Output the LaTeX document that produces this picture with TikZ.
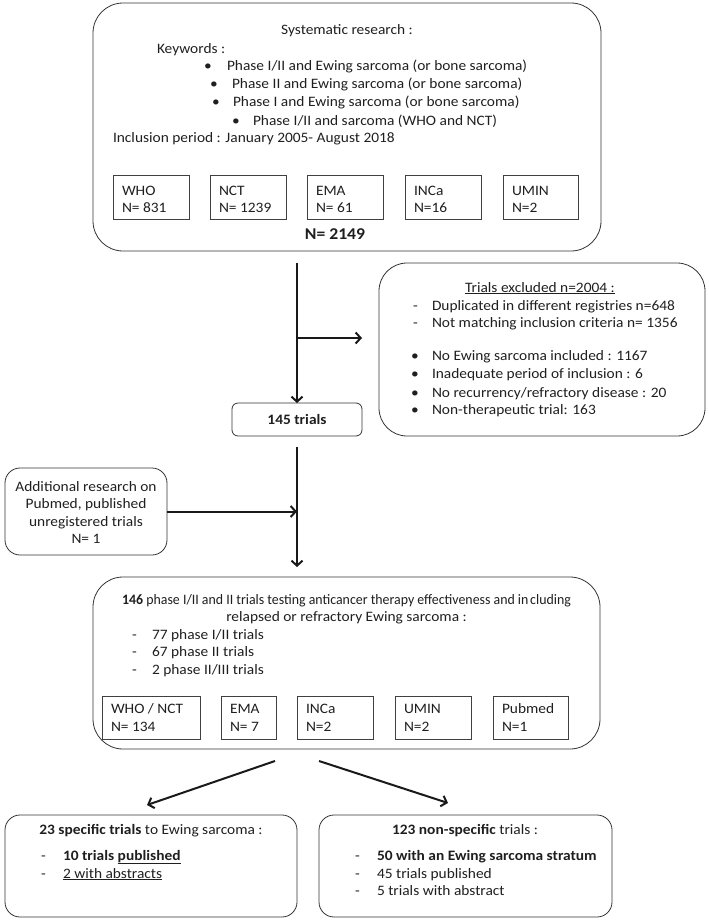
\documentclass[tikz,border=0pt]{standalone}
\usepackage{fontspec}
\setmainfont{Carlito}[FakeStretch=1.07]
\usetikzlibrary{arrows.meta}
\tikzset{
  rbox/.style={draw=black!80, line width=0.8pt, rounded corners=#1, inner sep=0pt, outer sep=0pt},
  rbox/.default=15pt,
  sbox/.style={draw=black!75, line width=0.8pt, inner sep=0pt, outer sep=0pt},
  txt/.style={inner sep=0pt, outer sep=0pt, font=\fontsize{14.4}{17}\selectfont, text=black!88},
  lt/.style={txt, anchor=base west},
  ct/.style={txt, anchor=base},
  arr/.style={line width=2pt, draw=black!90, -{Straight Barb[length=5pt,width=11pt]}},
}
\newcommand{\mkbox}[6]{\node[#6, minimum width={(#4)-(#2)}, minimum height={(#5)-(#3)}] (#1) at ({((#2)+(#4))/2},{((#3)+(#5))/2}) {};}
\begin{document}
\begin{tikzpicture}[x=1pt,y=-1pt]
\useasboundingbox (0,0) rectangle (709,924);
% ---------- top box
\mkbox{top}{93}{3}{601}{251}{rbox=30pt}
\node[ct] (t1) at (347,34) {Systematic research :};
\node[lt] (t2) at (157,53) {Keywords :};
\node[lt] (b1) at (204,70) {\textbullet};
\node[lt] (k1) at (227,70) {Phase I/II and Ewing sarcoma (or bone sarcoma)};
\node[lt] (b2) at (210,88) {\textbullet};
\node[lt] (k2) at (232,88) {Phase II and Ewing sarcoma (or bone sarcoma)};
\node[lt] (b3) at (212,106) {\textbullet};
\node[lt] (k3) at (233,106) {Phase I and Ewing sarcoma (or bone sarcoma)};
\node[lt] (b4) at (232,125) {\textbullet};
\node[lt] (k4) at (253,125) {Phase I/II and sarcoma (WHO and NCT)};
\node[lt] (t3) at (113,142) {Inclusion period : January 2005- August 2018};
\mkbox{who}{113}{175}{189}{219}{sbox}
\mkbox{nct}{210}{175}{286}{219}{sbox}
\mkbox{ema}{307}{175}{383}{219}{sbox}
\mkbox{inca}{405}{175}{481}{219}{sbox}
\mkbox{umin}{503}{175}{578}{219}{sbox}
\node[lt] (whoa) at (122,195) {WHO};
\node[lt] (whob) at (122,212) {N= 831};
\node[lt] (ncta) at (219,195) {NCT};
\node[lt] (nctb) at (219,212) {N= 1239};
\node[lt] (emaa) at (316,195) {EMA};
\node[lt] (emab) at (316,212) {N= 61};
\node[lt] (incaa) at (414,195) {INCa};
\node[lt] (incab) at (414,212) {N=16};
\node[lt] (umina) at (512,195) {UMIN};
\node[lt] (uminb) at (512,212) {N=2};
\node[ct, font=\fontsize{16.5}{19}\selectfont\bfseries] (ntot) at (335,239) {N= 2149};
% ---------- excluded box
\mkbox{excl}{379}{263}{705}{436}{rbox=28pt}
\node[ct] (e0) at (540,292) {\underline{Trials excluded n=2004 :}};
\node[lt] (d1) at (413,310) {-};
\node[lt] (e1) at (432,310) {Duplicated in different registries n=648};
\node[lt] (d2) at (413,327) {-};
\node[lt] (e2) at (432,327) {Not matching inclusion criteria n= 1356};
\node[lt] (f1) at (411,360) {\textbullet};
\node[lt] (e3) at (432,360) {No Ewing sarcoma included : 1167};
\node[lt] (f2) at (411,378) {\textbullet};
\node[lt] (e4) at (432,378) {Inadequate period of inclusion : 6};
\node[lt] (f3) at (411,397) {\textbullet};
\node[lt] (e5) at (432,397) {No recurrency/refractory disease : 20};
\node[lt] (f4) at (411,414) {\textbullet};
\node[lt] (e6) at (432,414) {Non-therapeutic trial: 163};
% ---------- 145 trials
\mkbox{t145}{232}{403}{362}{436}{rbox=6pt}
\node[ct] (t145t) at (297,424) {\bfseries 145 trials};
% ---------- additional research
\mkbox{add}{5}{468}{167}{555}{rbox=15pt}
\node[ct] (a1) at (86,491) {Additional research on};
\node[ct] (a2) at (86,508) {Pubmed, published};
\node[ct] (a3) at (86,526) {unregistered trials};
\node[ct] (a4) at (86,543) {N= 1};
% ---------- 146 trials
\mkbox{b146}{93}{577}{600}{749}{rbox=30pt}
\node[ct] (m1) at (346.5,604) {\scalebox{0.9}[1]{\textbf{146} phase I/II and II trials testing anticancer therapy effectiveness and in\hspace{2pt}cluding}};
\node[ct] (m2) at (346.5,621) {relapsed or refractory Ewing sarcoma :};
\node[lt] (g1) at (132,639.5) {-};
\node[lt] (m3) at (152,639.5) {77 phase I/II trials};
\node[lt] (g2) at (132,656.5) {-};
\node[lt] (m4) at (152,656.5) {67 phase II trials};
\node[lt] (g3) at (132,674.5) {-};
\node[lt] (m5) at (152,674.5) {2 phase II/III trials};
\mkbox{whonct}{102}{696}{200}{739}{sbox}
\mkbox{ema2}{221}{696}{276}{739}{sbox}
\mkbox{inca2}{297}{696}{373}{739}{sbox}
\mkbox{umin2}{395}{696}{471}{739}{sbox}
\mkbox{pub}{493}{696}{568}{739}{sbox}
\node[lt] (wna) at (111,713) {WHO / NCT};
\node[lt] (wnb) at (111,731) {N= 134};
\node[lt] (ema2a) at (230,713) {EMA};
\node[lt] (ema2b) at (230,731) {N= 7};
\node[lt] (inca2a) at (306,713) {INCa};
\node[lt] (inca2b) at (306,731) {N=2};
\node[lt] (umin2a) at (404,713) {UMIN};
\node[lt] (umin2b) at (404,731) {N=2};
\node[lt] (puba) at (502,713) {Pubmed};
\node[lt] (pubb) at (502,731) {N=1};
% ---------- bottom boxes
\mkbox{spec}{5}{815}{297}{917}{rbox=15pt}
\node[ct] (s0) at (151,834.5) {\textbf{23 specific trials} to Ewing sarcoma :};
\node[lt] (h1) at (41,860) {-};
\node[lt] (s1) at (63,860) {\textbf{10 trials \underline{published}}};
\node[lt] (h2) at (41,878) {-};
\node[lt] (s2) at (63,878) {\underline{2 with abstracts}};
\mkbox{nonspec}{319}{815}{612}{917}{rbox=15pt}
\node[ct] (n0) at (465,834.5) {\textbf{123 non-specific} trials :};
\node[lt] (i1) at (355,860) {-};
\node[lt] (n1) at (377,860) {\textbf{50 with an Ewing sarcoma stratum}};
\node[lt] (i2) at (355,878) {-};
\node[lt] (n2) at (377,878) {45 trials published};
\node[lt] (i3) at (355,895.5) {-};
\node[lt] (n3) at (377,895.5) {5 trials with abstract};
% ---------- connectors
\coordinate (br) at (297,338);
\draw[arr, shorten <=12pt] (t145.north |- top.south) -- (t145.north);
\draw[arr, shorten >=17pt] (br) -- (br -| excl.west);
\draw[arr, shorten <=11pt, shorten >=10pt] (t145.south) -- (t145.south |- b146.north);
\draw[arr] (add.east) -- (add.east -| t145.south);
\coordinate (l0) at (275,761);
\coordinate (l1) at (147,805);
\coordinate (r0) at (319,761);
\coordinate (r1) at (448,803);
\draw[arr] (l0) -- (l1);
\draw[arr] (r0) -- (r1);
\end{tikzpicture}
\end{document}
